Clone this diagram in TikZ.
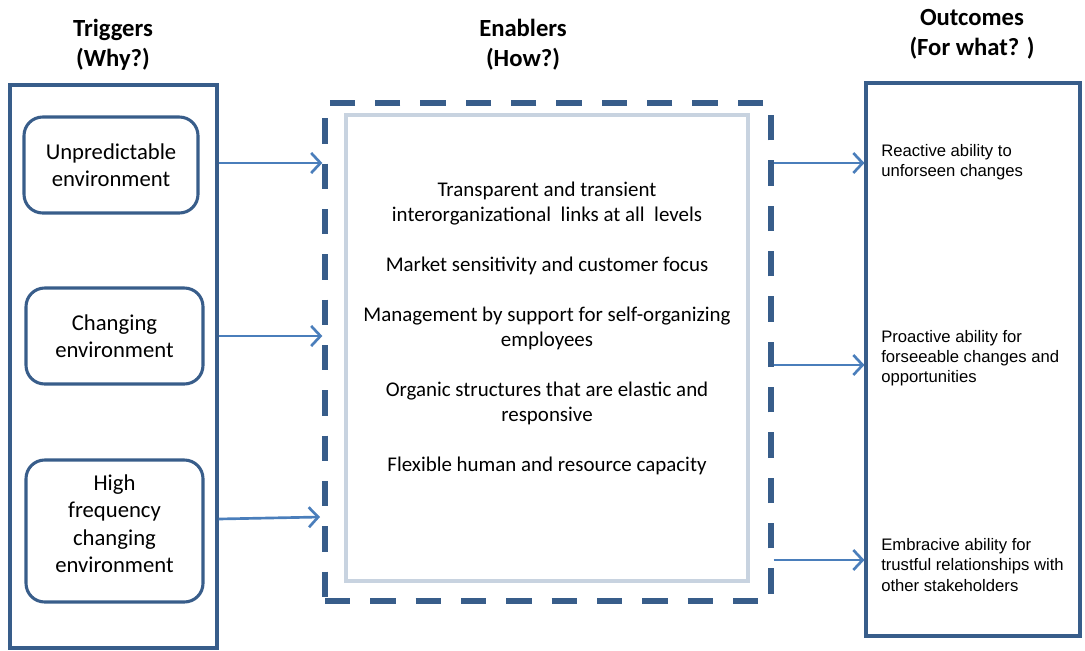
\documentclass[tikz,border=0pt]{standalone}
\usepackage{fontspec}
\setmainfont{Carlito}
\newfontfamily\arialfont{Liberation Sans}
\usepackage{xcolor}
\definecolor{darkblue}{RGB}{56, 93, 138}
\definecolor{arrowblue}{RGB}{74, 126, 187}
\definecolor{paleblue}{RGB}{200, 211, 224}
\usetikzlibrary{arrows.meta, positioning}
\newcommand{\pxu}{0.75pt}

\begin{document}
\begin{tikzpicture}[x=0.75pt, y=-0.75pt,
    frame/.style={draw=darkblue, line width=2.3pt, inner sep=0pt},
    trigger/.style={draw=darkblue, line width=2.3pt, rounded corners=14pt, align=center,
        font=\fontsize{17}{20.5}\selectfont},
    heading/.style={align=center, font=\bfseries\fontsize{18.5}{22.5}\selectfont},
    outcome/.style={anchor=west, align=left, inner sep=0pt,
        font=\arialfont\fontsize{12.5}{15.2}\selectfont},
    link/.style={arrowblue, line width=2pt, -{Straight Barb[length=7pt, width=15pt, line width=2pt]}}]
        \useasboundingbox (0,0) rectangle (1085,650);

        % Draw the three columns
        \node[frame, minimum width=207*\pxu, minimum height=563*\pxu] (trig) at (113.5,366.5) {};
        \node[frame, minimum width=214*\pxu, minimum height=553*\pxu] (outc) at (973,359.5) {};
        \node[draw=paleblue, line width=2.3pt, minimum width=402*\pxu, minimum height=466*\pxu,
            inner sep=0pt] (inner) at (547,348) {};
        \node[draw=darkblue, line width=4pt, dash pattern=on 19pt off 15pt, minimum width=446*\pxu,
            minimum height=498*\pxu, inner sep=0pt] (enab) at (548,352) {};

        % Column headings
        \node[heading] (htrig) at (113,45) {Triggers\\(Why?)};
        \node[heading] (henab) at (523,45) {Enablers\\(How?)};
        \node[heading] (houtc) at (972,34) {Outcomes\\(For what? )};

        % Draw triggers as rounded boxes
        \node[trigger, minimum width=174*\pxu, minimum height=96*\pxu] (t1) at (111,165) {Unpredictable\\environment};
        \node[trigger, minimum width=177*\pxu, minimum height=96*\pxu] (t2) at (114.5,336) {Changing\\environment};
        \node[trigger, minimum width=177*\pxu, minimum height=142*\pxu, text depth=11pt] (t3) at (114.5,531)
            {High\\frequency\\changing\\environment};

        % Enablers
        \node[align=center, font=\fontsize{15.7}{18.75}\selectfont] (list) at (547,328)
            {Transparent and transient\\interorganizational\ \ links at all\ \ levels\\[18.75pt]
             Market sensitivity and customer focus\\[18.75pt]
             Management by support for self-organizing\\employees\\[18.75pt]
             Organic structures that are elastic and\\responsive\\[18.75pt]
             Flexible human and resource capacity};

        % Outcomes
        \node[outcome] (o1) at (881,162) {Reactive ability to\\unforseen changes};
        \node[outcome] (o2) at (881,358) {Proactive ability for\\forseeable changes and\\opportunities};
        \node[outcome] (o3) at (881,565) {Embracive ability for\\trustful relationships with\\other stakeholders};

        % Arrows between the columns
        \coordinate (a3) at (320,517);
        \draw[link] (trig.east |- 0,163) -- (enab.west |- 0,163);
        \draw[link] (trig.east |- 0,336) -- (enab.west |- 0,336);
        \draw[link] (trig.east |- 0,519) -- (a3);
        \draw[link] (enab.east |- 0,163) -- (outc.west |- 0,163);
        \draw[link] (enab.east |- 0,365) -- (outc.west |- 0,365);
        \draw[link] (enab.east |- 0,560) -- (outc.west |- 0,560);
    \end{tikzpicture}
\end{document}
